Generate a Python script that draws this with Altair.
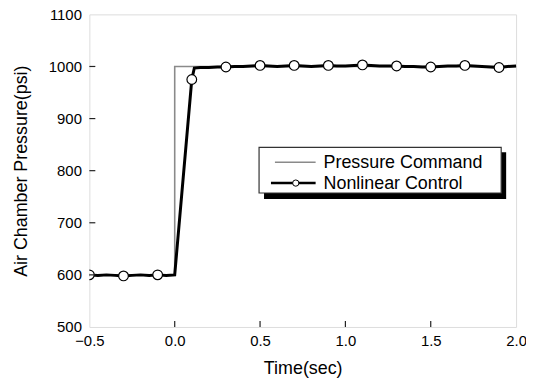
import altair as alt
import pandas as pd

# Pressure command (step)
cmd_t = [-0.5, 0.0, 0.0, 2.0]
cmd_v = [600, 600, 1000, 1000]

# Nonlinear control response
ctl_t = [-0.5, -0.45, -0.4, -0.35, -0.3, -0.25, -0.2, -0.15, -0.1, -0.05, 0.0,
         0.1, 0.115, 0.15, 0.2, 0.25, 0.3, 0.35, 0.4, 0.45, 0.5, 0.55, 0.6, 0.65,
         0.7, 0.75, 0.8, 0.85, 0.9, 0.95, 1.0, 1.05, 1.1, 1.15, 1.2, 1.25, 1.3,
         1.35, 1.4, 1.45, 1.5, 1.55, 1.6, 1.65, 1.7, 1.75, 1.8, 1.85, 1.9, 1.95, 2.0]
ctl_v = [600, 599, 600, 599, 598, 599, 600, 599, 600, 599, 600,
         975, 997, 998, 998, 999, 999, 1000, 1000, 1001, 1002, 1001, 1000, 1001,
         1002, 1001, 1000, 1001, 1002, 1001, 1001, 1002, 1003, 1002, 1001, 1001, 1001,
         1000, 1000, 999, 999, 1000, 1001, 1001, 1002, 1001, 1000, 999, 998, 1000, 1001]

# Circle markers
mk_t = [-0.5, -0.3, -0.1, 0.1, 0.3, 0.5, 0.7, 0.9, 1.1, 1.3, 1.5, 1.7, 1.9]
mk_v = [600, 598, 600, 975, 999, 1002, 1002, 1002, 1003, 1001, 999, 1002, 998]

x_ticks = [0.0, 0.5, 1.0, 1.5]
y_ticks = [600, 700, 800, 900, 1000]
x_labels = [-0.5, 0.0, 0.5, 1.0, 1.5, 2.0]
y_labels = [500, 600, 700, 800, 900, 1000, 1100]

legend_names = ["Pressure Command", "Nonlinear Control"]

W, H = 430, 315
FONT = "Liberation Sans"

cmd_df = pd.DataFrame({"t": cmd_t, "v": cmd_v})
ctl_df = pd.DataFrame({"t": ctl_t, "v": ctl_v})
mk_df = pd.DataFrame({"t": mk_t, "v": mk_v})

xs = alt.Scale(domain=[-0.5, 2.0], nice=False, zero=False)
ys = alt.Scale(domain=[500, 1100], nice=False, zero=False)

x_enc = alt.X("t:Q", scale=xs, axis=alt.Axis(
    title="Time(sec)", values=x_labels, format=".1f", ticks=False, domain=False,
    grid=False, labelFont=FONT, labelFontSize=15, labelColor="black", labelPadding=7,
    titleFont=FONT, titleFontSize=18, titleFontWeight="normal", titleColor="black",
    titlePadding=11, labelFlush=False))
y_enc = alt.Y("v:Q", scale=ys, axis=alt.Axis(
    title="Air Chamber Pressure(psi)", values=y_labels, format="d", ticks=False,
    domain=False, grid=False, labelFont=FONT, labelFontSize=15, labelColor="black",
    labelPadding=8, titleFont=FONT, titleFontSize=18, titleFontWeight="normal",
    titleColor="black", titlePadding=18, labelFlush=False))

cmd = alt.Chart(cmd_df).mark_line(color="#8a8a8a", strokeWidth=1.6).encode(
    x=x_enc, y=y_enc, order="index:Q").transform_window(index="row_number()")
ctl = alt.Chart(ctl_df).mark_line(color="black", strokeWidth=3).encode(
    x=alt.X("t:Q", scale=xs), y=alt.Y("v:Q", scale=ys))
mk = alt.Chart(mk_df).mark_point(shape="circle", filled=False, fill="white",
                                 fillOpacity=1, stroke="black", strokeWidth=1.2,
                                 size=95, opacity=1, clip=True).encode(
    x=alt.X("t:Q", scale=xs), y=alt.Y("v:Q", scale=ys))

xt = alt.Chart(pd.DataFrame({"t": x_ticks})).mark_rule(color="#222", strokeWidth=1.2).encode(
    x=alt.X("t:Q", scale=xs), y=alt.value(H), y2=alt.value(H - 6))
yt = alt.Chart(pd.DataFrame({"v": y_ticks})).mark_rule(color="#222", strokeWidth=1.2).encode(
    y=alt.Y("v:Q", scale=ys), x=alt.value(0), x2=alt.value(6))

# Legend box with shadow
lg_df = pd.DataFrame({"name": legend_names})
shadow = alt.Chart(lg_df.head(1)).mark_rect(color="black").encode(
    x=alt.value(176), x2=alt.value(420), y=alt.value(139), y2=alt.value(186))
box = alt.Chart(lg_df.head(1)).mark_rect(fill="white", stroke="#333", strokeWidth=1.2).encode(
    x=alt.value(171), x2=alt.value(415), y=alt.value(134), y2=alt.value(180))
l1 = alt.Chart(lg_df.head(1)).mark_rule(color="#8a8a8a", strokeWidth=1.6).encode(
    x=alt.value(187), x2=alt.value(228), y=alt.value(149))
l2 = alt.Chart(lg_df.head(1)).mark_rule(color="black", strokeWidth=2.5).encode(
    x=alt.value(183), x2=alt.value(228), y=alt.value(170))
l2m = alt.Chart(lg_df.head(1)).mark_point(shape="circle", filled=False, fill="white",
                                          fillOpacity=1, stroke="black", strokeWidth=1,
                                          size=40, opacity=1).encode(
    x=alt.value(208), y=alt.value(170))
t1 = alt.Chart(lg_df.head(1)).mark_text(align="left", baseline="middle", font=FONT,
                                        fontSize=18, color="black").encode(
    x=alt.value(236), y=alt.value(150), text="name:N")
t2 = alt.Chart(lg_df.tail(1)).mark_text(align="left", baseline="middle", font=FONT,
                                        fontSize=18, color="black").encode(
    x=alt.value(236), y=alt.value(171), text="name:N")

chart = alt.layer(cmd, ctl, mk, xt, yt, shadow, box, l1, l2, l2m, t1, t2).properties(
    width=W, height=H,
    autosize=alt.AutoSizeParams(type="none"),
    padding={"left": 82, "top": 5, "right": 10, "bottom": 50},
).configure_view(stroke="#222", strokeWidth=1.5).configure(background="white")

chart.save("out.html", embed_options={"renderer": "svg", "actions": False})
